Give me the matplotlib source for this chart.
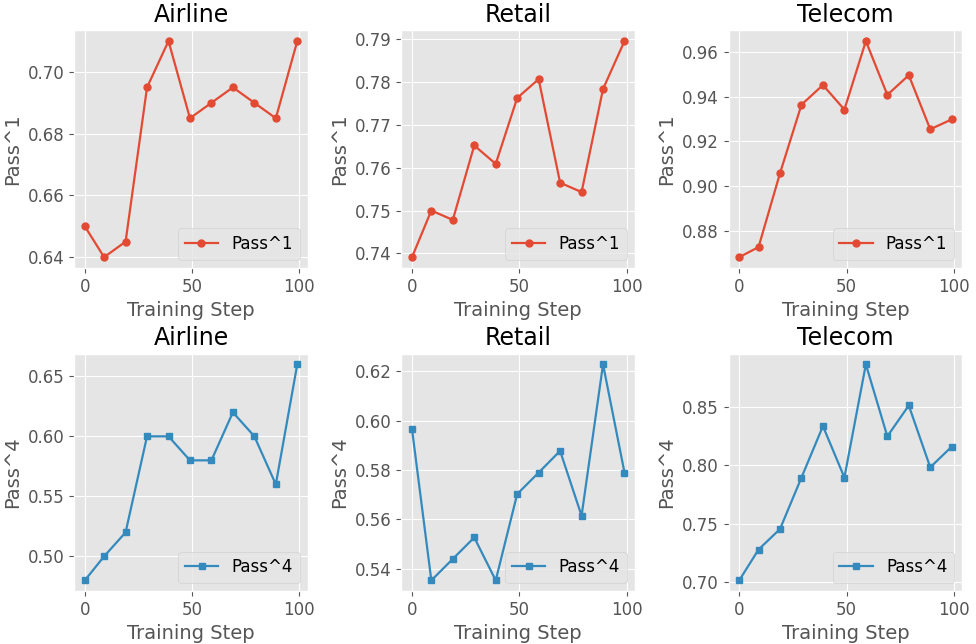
import numpy as np
import matplotlib
matplotlib.use('Agg')
import matplotlib.pyplot as plt

plt.style.use('ggplot')

# training steps and scores
steps = [0, 9, 19, 29, 39, 49, 59, 69, 79, 89, 99]
domains = ['Airline', 'Retail', 'Telecom']

airline_pass1 = [0.650, 0.640, 0.645, 0.695, 0.710, 0.685, 0.690, 0.695, 0.690, 0.685, 0.710]
retail_pass1 = [0.7391, 0.7500, 0.7478, 0.7652, 0.7609, 0.7763, 0.7807, 0.7565, 0.7543, 0.7784, 0.7896]
telecom_pass1 = [0.8681, 0.8726, 0.9057, 0.9364, 0.9452, 0.9342, 0.9649, 0.9408, 0.9496, 0.9254, 0.9298]

airline_pass4 = [0.48, 0.50, 0.52, 0.60, 0.60, 0.58, 0.58, 0.62, 0.60, 0.56, 0.66]
retail_pass4 = [0.5965, 0.5352, 0.5439, 0.5526, 0.5352, 0.5702, 0.5789, 0.5877, 0.5614, 0.6228, 0.5789]
telecom_pass4 = [0.7018, 0.7281, 0.7456, 0.7895, 0.8333, 0.7895, 0.8860, 0.8246, 0.8509, 0.7982, 0.8158]

pass1 = [airline_pass1, retail_pass1, telecom_pass1]
pass4 = [airline_pass4, retail_pass4, telecom_pass4]

fig, axes = plt.subplots(2, 3, figsize=(9.76, 6.44), dpi=100)
plt.subplots_adjust(left=0.076, right=0.986, top=0.953, bottom=0.082,
                    wspace=0.40, hspace=0.36)

for i, name in enumerate(domains):
    ax = axes[0, i]
    ax.plot(steps, pass1[i], '-o', color='#E24A33', lw=1.6, ms=5, label='Pass^1')
    ax.set_title(name, fontsize=17, color='black')
    ax.set_xlabel('Training Step', fontsize=14)
    ax.set_ylabel('Pass^1', fontsize=14)
    ax.tick_params(labelsize=12)
    ax.legend(loc='lower right', fontsize=12)

    ax = axes[1, i]
    ax.plot(steps, pass4[i], '-s', color='#348ABD', lw=1.6, ms=5, label='Pass^4')
    ax.set_title(name, fontsize=17, color='black')
    ax.set_xlabel('Training Step', fontsize=14)
    ax.set_ylabel('Pass^4', fontsize=14)
    ax.tick_params(labelsize=12)
    ax.legend(loc='lower right', fontsize=12)

plt.savefig('out.png')
